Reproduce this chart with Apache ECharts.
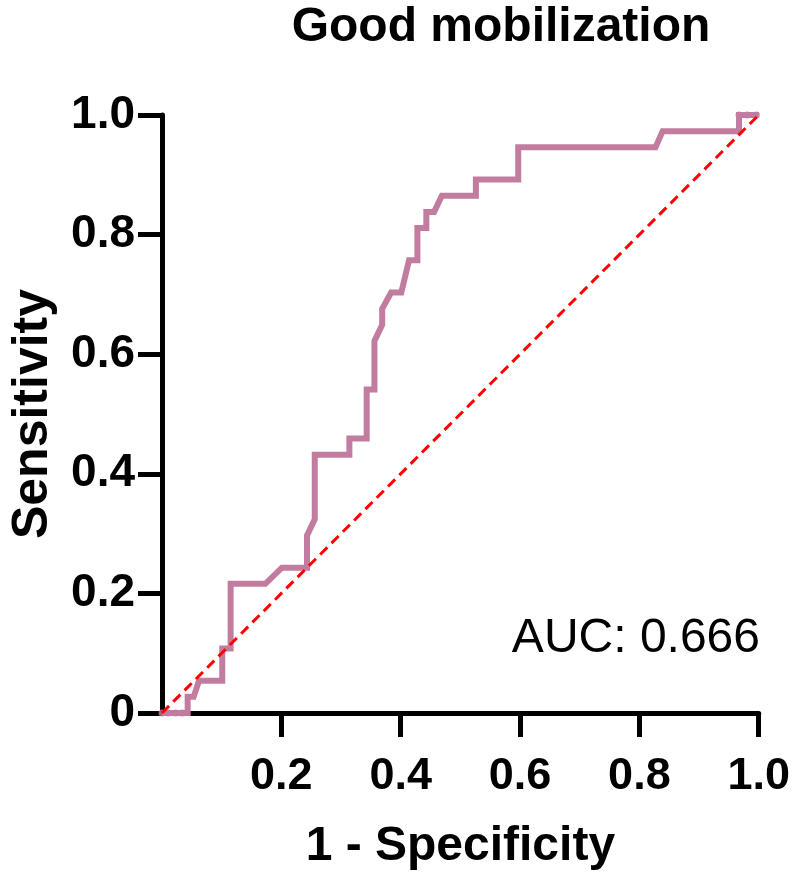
<!DOCTYPE html>
<html>
<head>
<meta charset="utf-8">
<script src="https://cdn.jsdelivr.net/npm/echarts@6/dist/echarts.min.js"></script>
<style>
html,body{margin:0;padding:0;background:#fff;}
#chart{width:793px;height:878px;}
</style>
</head>
<body>
<div id="chart"></div>
<script>
// ROC curve vertices (1 - Specificity, Sensitivity)
const rocX = [0, 0.043, 0.043, 0.053, 0.062, 0.101, 0.101, 0.115, 0.115, 0.173, 0.201, 0.243, 0.243, 0.256, 0.256, 0.314, 0.314, 0.343, 0.343, 0.356, 0.356, 0.369, 0.369, 0.384, 0.401, 0.414, 0.428, 0.428, 0.443, 0.443, 0.456, 0.469, 0.526, 0.526, 0.597, 0.597, 0.827, 0.839, 0.967, 0.967, 1.0];
const rocY = [0, 0, 0.027, 0.027, 0.054, 0.054, 0.108, 0.108, 0.216, 0.216, 0.243, 0.243, 0.297, 0.324, 0.432, 0.432, 0.459, 0.459, 0.541, 0.541, 0.622, 0.649, 0.676, 0.703, 0.703, 0.757, 0.757, 0.811, 0.811, 0.838, 0.838, 0.865, 0.865, 0.892, 0.892, 0.946, 0.946, 0.973, 0.973, 1.0, 1.0];
// tied vertices shown as dots
const tieX = [0.0, 0.011, 0.023, 0.034, 0.967, 0.981, 0.996];
const tieY = [0, 0, 0, 0, 1, 1, 1];
// reference line
const refX = [0, 1];
const refY = [0, 1];
const xTicks = [0.2, 0.4, 0.6, 0.8, 1.0];
const yTicks = [0, 0.2, 0.4, 0.6, 0.8, 1.0];
const titleText = 'Good mobilization';
const xName = '1 - Specificity';
const yName = 'Sensitivity';
const aucText = 'AUC: 0.666';

const FONT = 'Arial, "Liberation Sans", sans-serif';
const curveColor = '#C27CA0';

const chart = echarts.init(document.getElementById('chart'), null, {renderer: 'canvas'});
chart.setOption({
  animation: false,
  backgroundColor: '#fff',
  title: {
    text: titleText,
    left: 496,
    top: -1,
    textAlign: 'center',
    textStyle: {fontFamily: FONT, fontWeight: 'bold', fontSize: 48, color: '#000'}
  },
  grid: {left: 161, right: 31, top: 115, bottom: 165, containLabel: false},
  xAxis: {
    type: 'value', min: 0, max: 1, interval: 0.2,
    name: xName, nameLocation: 'middle', nameGap: 110,
    nameTextStyle: {fontFamily: FONT, fontWeight: 'bold', fontSize: 48, color: '#000'},
    axisLine: {show: true, onZero: false, lineStyle: {color: '#000', width: 5}},
    axisTick: {show: true, customValues: xTicks, length: 24, lineStyle: {color: '#000', width: 5}},
    axisLabel: {customValues: xTicks, margin: 41, fontFamily: FONT, fontWeight: 'bold', fontSize: 45, color: '#000',
      formatter: v => v.toFixed(1)},
    splitLine: {show: false}
  },
  yAxis: {
    type: 'value', min: 0, max: 1, interval: 0.2,
    name: yName, nameLocation: 'middle', nameGap: 104, nameRotate: 90,
    nameTextStyle: {fontFamily: FONT, fontWeight: 'bold', fontSize: 50, color: '#000'},
    axisLine: {show: true, onZero: false, lineStyle: {color: '#000', width: 5}},
    axisTick: {show: true, customValues: yTicks, length: 24, lineStyle: {color: '#000', width: 5}},
    axisLabel: {customValues: yTicks, margin: 27, fontFamily: FONT, fontWeight: 'bold', fontSize: 46, color: '#000',
      formatter: v => (v === 0 ? '0' : v.toFixed(1))},
    splitLine: {show: false}
  },
  graphic: [{
    type: 'text', right: 33, top: 615, z: 10,
    style: {text: aucText, font: '48px ' + FONT, fill: '#000'}
  }],
  series: [
    {
      type: 'line', data: rocX.map((x, i) => [x, rocY[i]]),
      showSymbol: false, clip: false, z: 3,
      lineStyle: {color: curveColor, width: 6, join: 'miter'}
    },
    {
      type: 'scatter', data: tieX.map((x, i) => [x, tieY[i]]),
      symbol: 'circle', symbolSize: 7, clip: false, z: 3,
      itemStyle: {color: curveColor}
    },
    {
      type: 'line', data: refX.map((x, i) => [x, refY[i]]),
      showSymbol: false, clip: false, z: 4,
      lineStyle: {color: '#FF0000', width: 3, type: [10, 6]}
    }
  ]
});
</script>
</body>
</html>
